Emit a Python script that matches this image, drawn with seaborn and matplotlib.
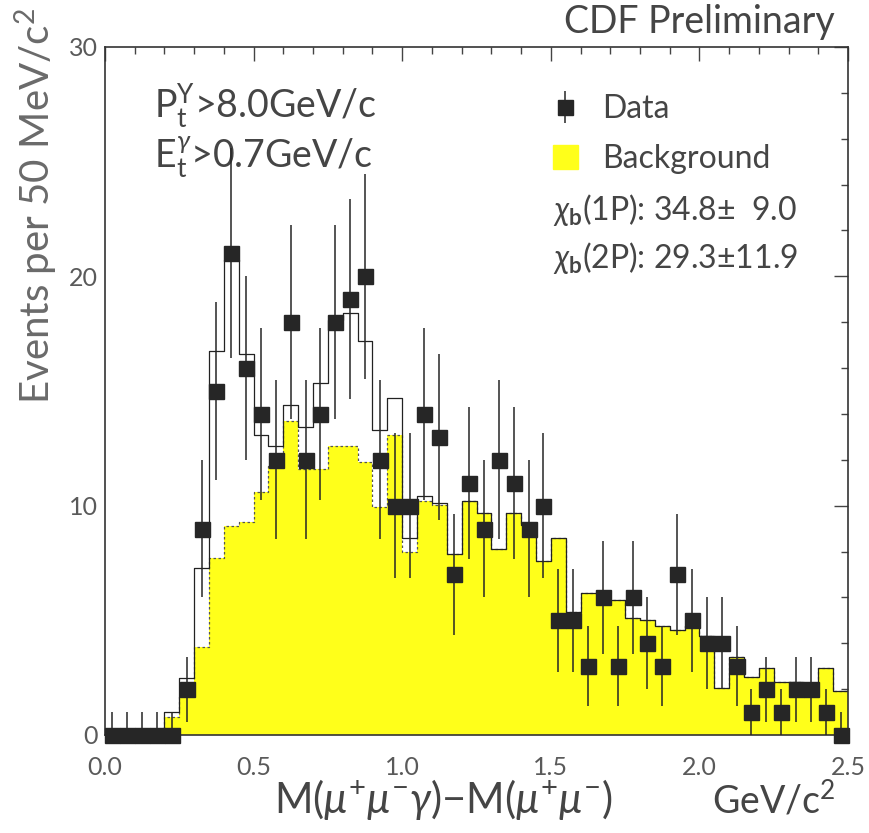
import numpy as np
import pandas as pd
import matplotlib
matplotlib.use("Agg")
import matplotlib.pyplot as plt
import matplotlib.patches as mpatches
import seaborn as sns

# ---- data (50 MeV bins from 0 to 2.5 GeV/c^2) ----
bin_width = 0.05
x_range = (0.0, 2.5)
data_counts = [0, 0, 0, 0, 0, 2, 9, 15, 21, 16,
               14, 12, 18, 12, 14, 18, 19, 20, 12, 10,
               10, 14, 13, 7, 11, 9, 12, 11, 9, 10,
               5, 5, 3, 6, 3, 6, 4, 3, 7, 5,
               4, 4, 3, 1, 2, 1, 2, 2, 1, 0]
background = [0, 0, 0, 0, 0.8, 1.7, 3.85, 7.7, 9.1, 9.3,
              10.6, 11.75, 13.7, 11.6, 11.6, 12.6, 12.6, 11.9, 9.95, 13.1,
              8.0, 10.2, 10.05, 7.9, 10.2, 9.7, 8.1, 9.7, 9.15, 7.6,
              8.6, 5.35, 6.2, 6.2, 5.9, 5.1, 5.0, 4.75, 4.6, 4.75,
              4.3, 2.05, 3.4, 2.55, 2.9, 2.3, 2.3, 2.05, 2.9, 1.9]
fit_total = [0, 0, 0, 0, 1.0, 2.5, 7.3, 16.75, 20.7, 16.6,
             13.1, 12.6, 14.4, 13.45, 15.35, 18.1, 18.4, 17.2, 13.3, 14.7,
             8.6, 10.4, 10.1, 7.9, 10.2, 9.7, 8.1, 9.7, 9.15, 7.6,
             8.6, 5.35, 6.2, 6.2, 5.9, 5.1, 5.0, 4.75, 4.6, 4.75,
             4.3, 2.05, 3.4, 2.55, 2.9, 2.3, 2.3, 2.05, 2.9, 1.9]
x_ticks = [0.0, 0.5, 1.0, 1.5, 2.0, 2.5]
x_ticklabels = ["0.0", "0.5", "1.0", "1.5", "2.0", "2.5"]
y_ticks = [0, 10, 20, 30]
yield_1p = "34.8\u00b1  9.0"
yield_2p = "29.3\u00b111.9"

nb = len(data_counts)
centers = x_range[0] + bin_width * (np.arange(nb) + 0.5)
counts = np.array(data_counts, dtype=float)
err_up = np.where(counts > 0, np.sqrt(counts), 1.0)
err_lo = np.sqrt(counts)
df = pd.DataFrame({"center": centers, "bg": background, "fit": fit_total,
                   "data": counts})

sns.set_theme(style="white")
plt.rcParams["font.family"] = ["Lato", "DejaVu Sans"]
plt.rcParams["mathtext.fontset"] = "custom"
plt.rcParams["mathtext.rm"] = "Lato"
plt.rcParams["mathtext.it"] = "Lato:italic"
plt.rcParams["mathtext.bf"] = "Lato:bold"

TXT = "#454545"
YEL = "#ffff1a"
FW = "normal"

fig = plt.figure(figsize=(8.7, 8.33), dpi=100)
ax = fig.add_axes([105 / 870, 1 - 735 / 833, 743 / 870, 688 / 833])

hkw = dict(data=df, x="center", binwidth=bin_width, binrange=x_range,
           element="step", ax=ax)
# background histogram (filled yellow)
sns.histplot(weights="bg", fill=True, color=YEL, alpha=1.0, linewidth=0, **hkw)
sns.histplot(weights="bg", fill=False, color="#555555", linewidth=0.9,
             linestyle=(0, (2, 2)), **hkw)
# total fit (black step line)
sns.histplot(weights="fit", fill=False, color="#222222", linewidth=0.9, **hkw)

# data points with errors
eb = ax.errorbar(df["center"], df["data"], yerr=[err_lo, err_up], fmt="s",
                 color="#262626", ms=10.8, mec="#262626", ecolor="#262626",
                 elinewidth=1.1, capsize=0, clip_on=False, zorder=5)

ax.set_xlim(*x_range)
ax.set_ylim(0, 30)
ax.set_xlabel("")
ax.set_ylabel("")
ax.set_xticks(x_ticks)
ax.set_xticklabels(x_ticklabels)
ax.set_yticks(y_ticks)
ax.set_xticks(np.arange(0, 2.51, 0.1), minor=True)
ax.set_yticks(np.arange(0, 30.1, 2), minor=True)
ax.tick_params(axis="both", which="major", direction="in", length=10, width=1,
               top=True, right=True, labelsize=18, colors="#444444",
               labelcolor="#5a5a5a")
ax.tick_params(axis="x", which="major", pad=15)
ax.tick_params(axis="y", which="major", pad=5)
ax.tick_params(axis="both", which="minor", direction="in", length=5, width=1,
               top=True, right=True, colors="#444444")
for s in ax.spines.values():
    s.set_color("#333333")
    s.set_linewidth(1.2)
for lab in ax.get_xticklabels() + ax.get_yticklabels():
    lab.set_fontweight(FW)

# legend
bg_patch = mpatches.Patch(color=YEL, label="Background")
leg = ax.legend([eb, bg_patch], ["Data", "Background"], loc="upper left",
                bbox_to_anchor=(0.603, 0.931), frameon=False, fontsize=23,
                handlelength=0.78, handleheight=0.75, handletextpad=0.75,
                labelspacing=0.62, borderaxespad=0, borderpad=0)
for t in leg.get_texts():
    t.set_color(TXT)
    t.set_fontweight(FW)

ax.text(0.603, 0.763, r"$\chi_\mathbf{b}$(1P): " + yield_1p, transform=ax.transAxes,
        fontsize=23, color=TXT, va="center", ha="left", fontweight=FW)
ax.text(0.603, 0.693, r"$\chi_\mathbf{b}$(2P): " + yield_2p, transform=ax.transAxes,
        fontsize=23, color=TXT, va="center", ha="left", fontweight=FW)

ax.text(0.066, 0.897, r"P$_\mathrm{t}^{\Upsilon}$>8.0GeV/c", transform=ax.transAxes,
        fontsize=27, color=TXT, va="baseline", ha="left", fontweight=FW)
ax.text(0.066, 0.824, r"E$_\mathrm{t}^{\gamma}$>0.7GeV/c", transform=ax.transAxes,
        fontsize=27, color=TXT, va="baseline", ha="left", fontweight=FW)

fig.text(835 / 870, 1 - 22 / 833, "CDF Preliminary", fontsize=27, color=TXT,
         ha="right", va="center", fontweight=FW)
fig.text(443 / 870, 1 - 800 / 833, r"M($\mu^{+}\mu^{-}\gamma$)$-$M($\mu^{+}\mu^{-}$)",
         fontsize=30, color=TXT, ha="center", va="center", fontweight=FW)
fig.text(712 / 870, 1 - 800 / 833, r"GeV/c$^2$", fontsize=27, color=TXT,
         ha="left", va="center", fontweight=FW)
fig.text(36 / 870, 1 - 8 / 833, r"Events per 50 MeV/c$^2$", fontsize=29,
         color="#6a6a6a", rotation=90, ha="center", va="top", fontweight=FW)

fig.savefig("out.png", dpi=100)
